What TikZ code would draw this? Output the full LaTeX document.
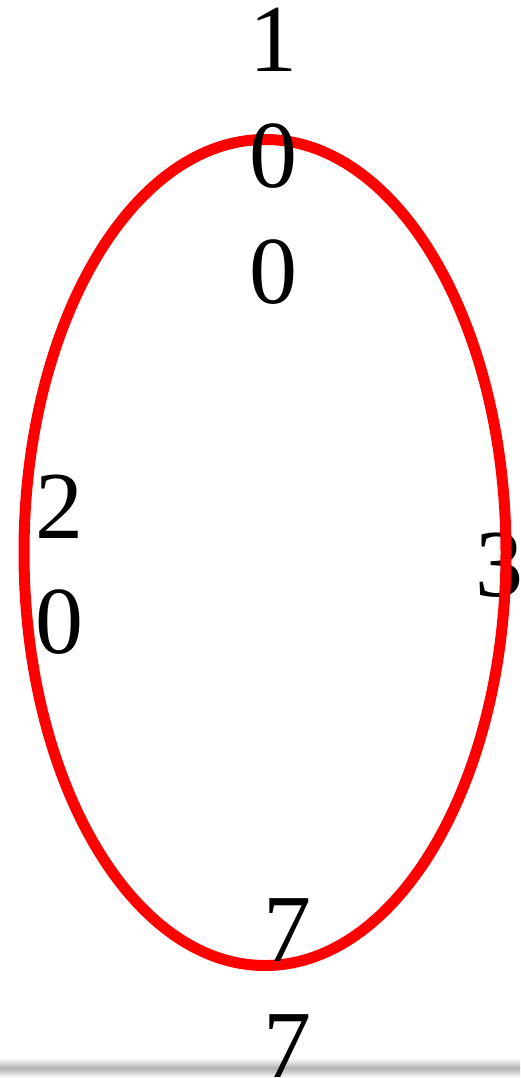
\documentclass[tikz,border=0pt]{standalone}
\usepackage{fontspec}
\setmainfont{Liberation Serif}
\begin{document}
\begin{tikzpicture}[x=1pt,y=-1pt,
  digit/.style={anchor=base,inner sep=0pt,font=\fontsize{96}{115.5}\selectfont},
  ring/.style={draw=red,line width=11pt}]
\useasboundingbox (0,0) rectangle (520,1078);
\fill[white] (0,0) rectangle (520,1078);
% bottom shadow band
\shade[top color=white,bottom color=black!30] (0,1058) rectangle (520,1068);
\shade[top color=black!30,bottom color=white] (0,1068) rectangle (520,1078);
% label behind ring
\node[digit] (r1) at (499,596) {3};
% ring
\draw[ring] (265,552.5) ellipse [x radius=241pt, y radius=413pt];
% labels
\node[digit] (t1) at (273,72) {1};
\node[digit] (t2) at (273,188) {0};
\node[digit] (t3) at (273,303) {0};
\node[digit] (l1) at (59,538) {2};
\node[digit] (l2) at (59,653) {0};
\node[digit] (b1) at (287,961) {7};
\node[digit] (b2) at (287,1077) {7};
\end{tikzpicture}
\end{document}
